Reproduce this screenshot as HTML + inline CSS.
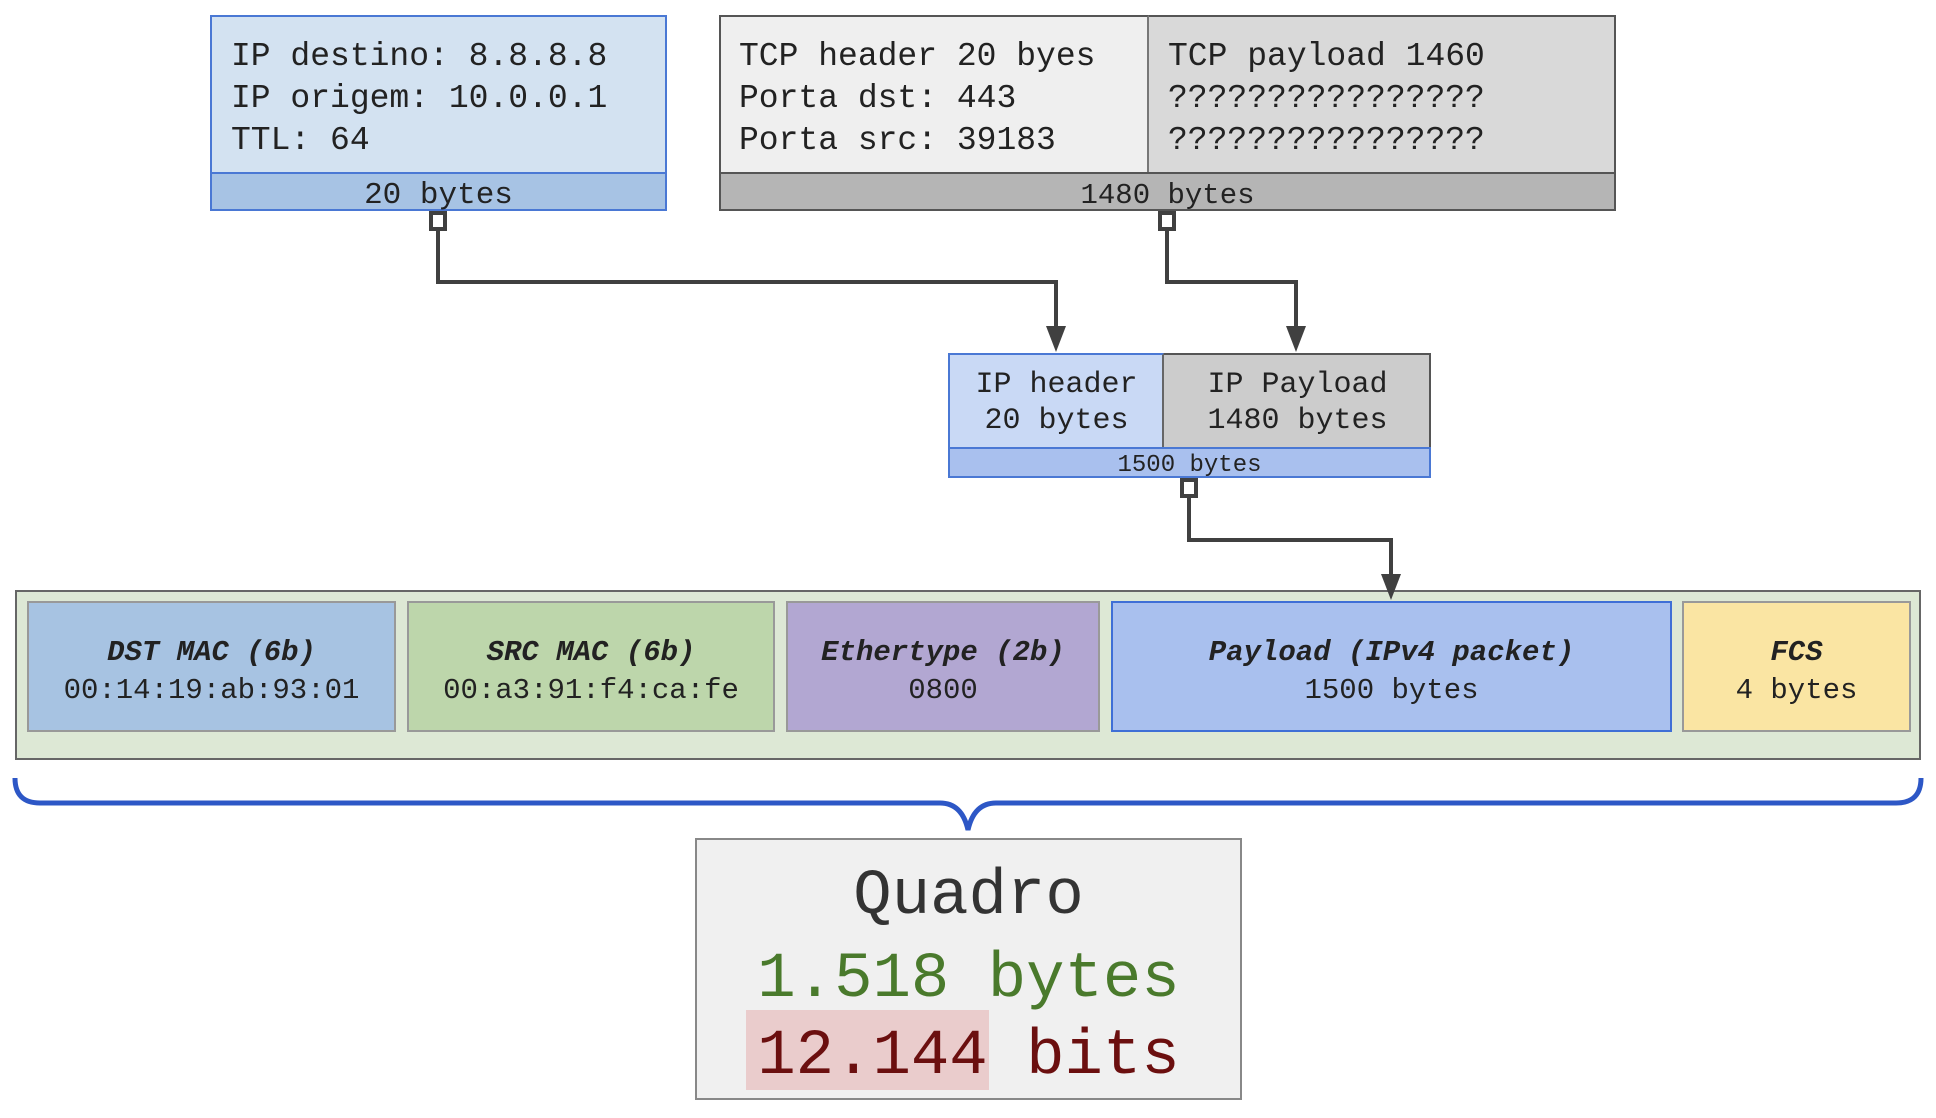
<!DOCTYPE html>
<html><head><meta charset="utf-8"><style>
body{margin:0;width:1936px;height:1118px;background:#fff;position:relative;overflow:hidden;font-family:"Liberation Mono","DejaVu Sans Mono",monospace;color:#222}
.a{position:absolute;box-sizing:border-box}
.t{position:absolute;white-space:pre}
.c{display:flex;flex-direction:column;align-items:center;justify-content:center;text-align:center;font-size:29px;line-height:38px;border:2px solid #999;padding-top:10px}
.c b{font-style:italic}
</style></head><body>
<!-- IP box -->
<div class="a" style="left:210px;top:15px;width:457px;height:196px;background:#d3e2f1;border:2px solid #4a78d4"></div>
<div class="a" style="left:210px;top:172px;width:457px;height:39px;background:#a7c3e4;border:2px solid #4a78d4"></div>
<div class="t" style="left:231px;top:36px;font-size:33px;line-height:42px">IP destino: 8.8.8.8
IP origem: 10.0.0.1
TTL: 64</div>
<div class="t" style="left:210px;width:457px;text-align:center;top:178px;font-size:31px;line-height:36px">20 bytes</div>
<!-- TCP box -->
<div class="a" style="left:719px;top:15px;width:897px;height:196px;background:#d9d9d9;border:2px solid #555"></div>
<div class="a" style="left:719px;top:15px;width:430px;height:159px;background:#efefef;border:2px solid #555;border-right:2px solid #777"></div>
<div class="a" style="left:719px;top:172px;width:897px;height:39px;background:#b5b5b5;border:2px solid #555"></div>
<div class="t" style="left:739px;top:36px;font-size:33px;line-height:42px">TCP header 20 byes
Porta dst: 443
Porta src: 39183</div>
<div class="t" style="left:1168px;top:36px;font-size:33px;line-height:42px">TCP payload 1460
????????????????
????????????????</div>
<div class="t" style="left:719px;width:897px;text-align:center;top:178px;font-size:29px;line-height:36px">1480 bytes</div>
<!-- IP small box -->
<div class="a" style="left:948px;top:353px;width:483px;height:125px;background:#cccccc;border:2px solid #555"></div>
<div class="a" style="left:948px;top:353px;width:216px;height:96px;background:#c9d9f5;border:2px solid #4a78d4;border-right:2px solid #666"></div>
<div class="a" style="left:948px;top:447px;width:483px;height:31px;background:#a9c0ee;border:2px solid #4a78d4"></div>
<div class="t" style="left:950px;width:213px;text-align:center;top:367px;font-size:30px;line-height:36px">IP header
20 bytes</div>
<div class="t" style="left:1164px;width:267px;text-align:center;top:367px;font-size:30px;line-height:36px">IP Payload
1480 bytes</div>
<div class="t" style="left:948px;width:483px;text-align:center;top:452px;font-size:24px;line-height:28px">1500 bytes</div>
<!-- frame -->
<div class="a" style="left:15px;top:590px;width:1906px;height:170px;background:#dde8d5;border:2px solid #666"></div>
<div class="a c" style="left:27px;top:601px;width:369px;height:131px;background:#a7c3e2"><b>DST MAC (6b)</b><span>00:14:19:ab:93:01</span></div>
<div class="a c" style="left:407px;top:601px;width:368px;height:131px;background:#bdd6ab"><b>SRC MAC (6b)</b><span>00:a3:91:f4:ca:fe</span></div>
<div class="a c" style="left:786px;top:601px;width:314px;height:131px;background:#b2a7d2"><b>Ethertype (2b)</b><span>0800</span></div>
<div class="a c" style="left:1111px;top:601px;width:561px;height:131px;background:#a9c0ee;border-color:#3f6fd6"><b>Payload (IPv4 packet)</b><span>1500 bytes</span></div>
<div class="a c" style="left:1682px;top:601px;width:229px;height:131px;background:#fae5a3"><b>FCS</b><span>4 bytes</span></div>
<!-- quadro -->
<div class="a" style="left:695px;top:838px;width:547px;height:262px;background:#f0f0f0;border:2px solid #888"></div>
<div class="a" style="left:746px;top:1010px;width:243px;height:80px;background:#eacccc"></div>
<div class="t" style="left:695px;width:547px;text-align:center;top:859px;font-size:64px;line-height:76px;color:#333">Quadro</div>
<div class="t" style="left:695px;width:547px;text-align:center;top:942px;font-size:64px;line-height:76px;color:#4a7a2c">1.518 bytes</div>
<div class="t" style="left:695px;width:547px;text-align:center;top:1019px;font-size:64px;line-height:76px;color:#6b0f0f">12.144 bits</div>
<svg class="a" style="left:0;top:0" width="1936" height="1118">
<g fill="none" stroke="#404040" stroke-width="4">
<polyline points="438,231 438,282 1056,282 1056,330"/>
<polyline points="1167,231 1167,282 1296,282 1296,330"/>
<polyline points="1189,496 1189,540 1391,540 1391,580"/>
<rect x="431" y="213" width="14" height="16" fill="#fff"/>
<rect x="1160" y="213" width="14" height="16" fill="#fff"/>
<rect x="1182" y="480" width="14" height="16" fill="#fff"/>
</g>
<g fill="#404040">
<polygon points="1046,326 1066,326 1056,352"/>
<polygon points="1286,326 1306,326 1296,352"/>
<polygon points="1381,574 1401,574 1391,600"/>
</g>
<path d="M15,778 Q15,803 40,803 L940,803 Q962,803 968,830 Q974,803 996,803 L1896,803 Q1921,803 1921,778" fill="none" stroke="#2d57c6" stroke-width="5"/>
</svg>
</body></html>
